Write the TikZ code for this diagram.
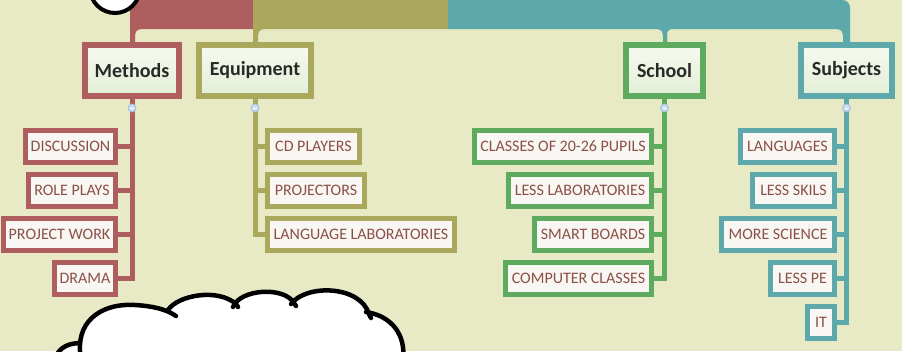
\documentclass[tikz,border=0pt]{standalone}
\usepackage{fontspec}
\setmainfont{Carlito}
\definecolor{bg}{RGB}{232,233,197}
\definecolor{cred}{RGB}{174,94,94}
\definecolor{colive}{RGB}{170,168,92}
\definecolor{cteal}{RGB}{92,168,170}
\definecolor{cgreen}{RGB}{94,170,94}
\definecolor{ctext}{RGB}{140,80,70}
\definecolor{btext}{RGB}{40,42,40}
\definecolor{cfill}{RGB}{248,247,243}
\definecolor{mtop}{RGB}{246,250,240}
\definecolor{mbot}{RGB}{226,238,214}
\definecolor{kfill}{RGB}{205,222,242}
\definecolor{kdraw}{RGB}{160,190,225}
\tikzset{
  mainbox/.style={draw=#1, line width=6pt, inner sep=0pt, minimum height=51pt,
    top color=mtop, bottom color=mbot,
    font=\fontsize{20}{24}\selectfont\bfseries, text=btext},
  childbox/.style={draw=#1, line width=5pt, fill=cfill, inner sep=0pt, minimum height=32pt,
    font=\fontsize{16}{19}\selectfont, text=ctext},
  conn/.style={draw=#1, line width=5pt},
  knob/.style={circle, fill=kfill, draw=kdraw, line width=0.8pt, minimum size=8pt, inner sep=0pt},
  cloudline/.style={draw=black, line width=4.5pt, line cap=round, line join=round}
}
\begin{document}
\begin{tikzpicture}[x=1pt, y=-1pt]
\useasboundingbox (0,0) rectangle (902,351);
\clip (0,0) rectangle (902,351);
\fill[bg] (0,0) rectangle (902,351);

% top bands
\fill[cred] (130,0) -- (253,0) -- (253,29) -- (143,29) .. controls (137,29) and (135,31) .. (135,37) -- (135,46) -- (130,46) -- cycle;
\fill[colive] (253,0) -- (448,0) -- (448,29) -- (266,29) .. controls (260,29) and (258,31) .. (258,37) -- (258,46) -- (253,46) -- cycle;
\fill[cteal] (448,0) -- (842,0) .. controls (847,0) and (850,3) .. (850,8) -- (850,46) -- (843,46) -- (843,37)
  .. controls (843,31) and (841,29) .. (835,29) -- (673,29) .. controls (669,29) and (667,31) .. (667,35)
  -- (667,46) -- (663,46) -- (663,37) .. controls (663,31) and (661,29) .. (655,29) -- (448,29) -- cycle;
\shade[top color=cteal, bottom color=cgreen] (663,34) rectangle (667,46);

% top partial circle
\draw[line width=4pt, fill=white] (115,-12) circle (25pt);

% main nodes
\node[mainbox=cred, minimum width=94pt] (methods) at (132,70.5) {Methods};
\node[mainbox=colive, minimum width=112pt] (equip) at (255,70.5) {Equipment};
\node[mainbox=cgreen, minimum width=77pt] (school) at (664.5,70.5) {School};
\node[mainbox=cteal, minimum width=91pt] (subj) at (846.5,70.5) {Subjects};

% children
\node[childbox=cred, minimum width=90pt] (m1) at (70.5,146.5) {DISCUSSION};
\node[childbox=cred, minimum width=87pt] (m2) at (72,190.5) {ROLE PLAYS};
\node[childbox=cred, minimum width=112pt] (m3) at (59.5,234.5) {PROJECT WORK};
\node[childbox=cred, minimum width=61pt] (m4) at (85,278.5) {DRAMA};

\node[childbox=colive, minimum width=92pt] (e1) at (313.5,146.5) {CD PLAYERS};
\node[childbox=colive, minimum width=97pt] (e2) at (316,190.5) {PROJECTORS};
\node[childbox=colive, minimum width=187pt] (e3) at (361,234.5) {LANGUAGE LABORATORIES};

\node[childbox=cgreen, minimum width=177pt] (s1) at (563,146.5) {CLASSES OF 20-26 PUPILS};
\node[childbox=cgreen, minimum width=143pt] (s2) at (580,190.5) {LESS LABORATORIES};
\node[childbox=cgreen, minimum width=117pt] (s3) at (593,234.5) {SMART BOARDS};
\node[childbox=cgreen, minimum width=146pt] (s4) at (578.5,278.5) {COMPUTER CLASSES};

\node[childbox=cteal, minimum width=94pt] (u1) at (787.5,146.5) {LANGUAGES};
\node[childbox=cteal, minimum width=82pt] (u2) at (793.5,190.5) {LESS SKILS};
\node[childbox=cteal, minimum width=113pt] (u3) at (778,234.5) {MORE SCIENCE};
\node[childbox=cteal, minimum width=64pt] (u4) at (802.5,278.5) {LESS PE};
\node[childbox=cteal, minimum width=27pt] (u5) at (821,322.5) {IT};

% connectors
\draw[conn=cred] (methods.south) -- (methods.south |- m4.east) -- (m4.east);
\foreach \c in {m1,m2,m3} \draw[conn=cred] (\c.east) -- (\c.east -| methods.south);
\draw[conn=colive] (equip.south) -- (equip.south |- e3.west) -- (e3.west);
\foreach \c in {e1,e2} \draw[conn=colive] (\c.west) -- (\c.west -| equip.south);
\draw[conn=cgreen] (school.south) -- (school.south |- s4.east) -- (s4.east);
\foreach \c in {s1,s2,s3} \draw[conn=cgreen] (\c.east) -- (\c.east -| school.south);
\draw[conn=cteal] (subj.south) -- (subj.south |- u5.east) -- (u5.east);
\foreach \c in {u1,u2,u3,u4} \draw[conn=cteal] (\c.east) -- (\c.east -| subj.south);

% collapse knobs
\node[knob] (k1) at (methods.south |- 0,108) {\textcolor{white}{\rule{3.5pt}{0.8pt}}};
\node[knob] (k2) at (equip.south |- 0,108) {\textcolor{white}{\rule{3.5pt}{0.8pt}}};
\node[knob] (k3) at (school.south |- 0,108) {\textcolor{white}{\rule{3.5pt}{0.8pt}}};
\node[knob] (k4) at (subj.south |- 0,108) {\textcolor{white}{\rule{3.5pt}{0.8pt}}};

% cloud
\fill[white] (55,360) .. controls (60,346) and (70,343) .. (82,343) -- (82,360) -- cycle;
\draw[cloudline] (55,358) .. controls (60,346) and (70,343) .. (82,343);
\fill[white] (80,360) -- (80,351) .. controls (78,318) and (105,303) .. (135,305)
  .. controls (150,306) and (160,307) .. (168,310)
  .. controls (178,295) and (218,288) .. (236,304)
  .. controls (250,287) and (284,286) .. (294,303)
  .. controls (310,284) and (360,285) .. (368,313)
  .. controls (392,316) and (406,335) .. (403,360) -- cycle;
\draw[cloudline] (80,360) -- (80,351) .. controls (78,318) and (105,303) .. (135,305)
  .. controls (152,306) and (166,309) .. (176,316);
\draw[cloudline] (168,310) .. controls (178,295) and (218,288) .. (236,304) -- (238,307);
\draw[cloudline] (233,307) .. controls (240,289) and (284,286) .. (294,303) -- (296,306);
\draw[cloudline] (291,304) .. controls (306,284) and (360,285) .. (369,314) -- (371,318);
\draw[cloudline] (366,312) .. controls (392,316) and (406,335) .. (403,360);
\end{tikzpicture}
\end{document}
